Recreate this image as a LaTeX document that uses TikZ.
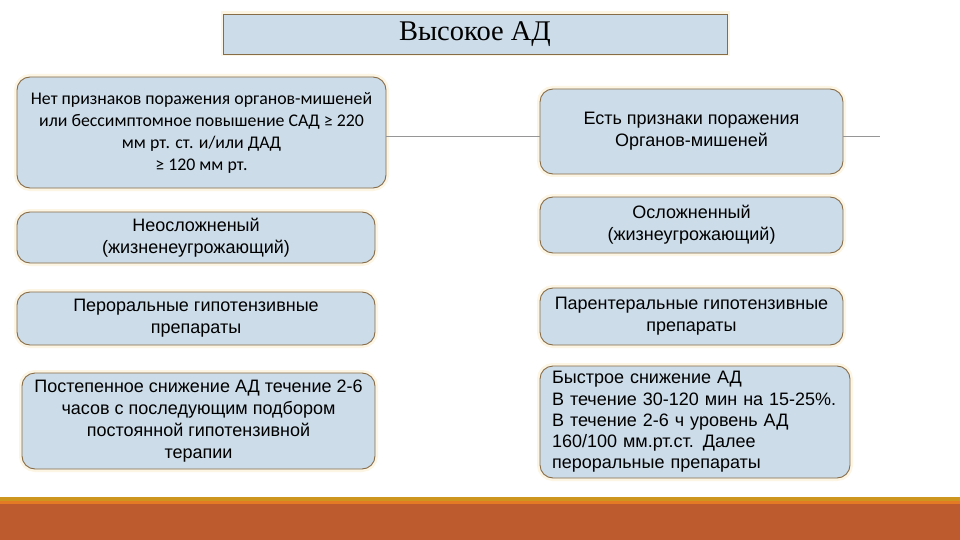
\documentclass[tikz,border=0pt]{standalone}
\usepackage{fontspec}
\setmainfont{Liberation Sans}
\newfontfamily\serifA{Liberation Serif}
\newfontfamily\calib{Carlito}
\definecolor{boxfill}{RGB}{204,220,233}
\definecolor{boxedge}{RGB}{135,108,72}
\definecolor{halo}{RGB}{252,245,228}
\definecolor{linegray}{RGB}{150,150,150}
\definecolor{barGold}{RGB}{205,150,30}
\definecolor{barOrange}{RGB}{228,122,36}
\definecolor{barRust}{RGB}{190,91,46}
\tikzset{
  rbox/.style={draw=boxedge, line width=0.9pt, fill=boxfill, rounded corners=13pt,
    preaction={draw=halo, line width=6pt},
    align=center, inner sep=0pt, font=\fontsize{18}{22}\selectfont},
  titlebox/.style={draw=boxedge, line width=0.8pt, fill=boxfill, inner sep=0pt,
    preaction={draw=halo, line width=5pt},
    font=\serifA\fontsize{28.5}{30}\selectfont},
  conn/.style={draw=linegray, line width=0.6pt}
}
\begin{document}
\begin{tikzpicture}[x=1pt,y=-1pt]
\useasboundingbox (0,0) rectangle (960,540);
\fill[white] (0,0) rectangle (960,540);
% bottom bar
\fill[barGold] (0,497) rectangle (960,501);
\fill[barOrange] (0,501) rectangle (960,504);
\fill[barRust] (0,504) rectangle (960,540);

\node[titlebox, minimum width=504pt, minimum height=40pt] (title) at (475,34) {Высокое АД};

\coordinate (rend) at (880,136);

\node[rbox, minimum width=369pt, minimum height=111pt, font=\calib\fontsize{17.8}{22}\selectfont] (l1) at (201.5,132.5)
  {Нет признаков поражения органов-мишеней\\или бессимптомное повышение САД ≥ 220\\мм рт. ст. и/или ДАД\\≥ 120 мм рт.};
\node[rbox, minimum width=303pt, minimum height=85pt] (r1) at (691.5,131.5)
  {Есть признаки поражения\\Органов-мишеней};

\draw[conn] (l1.east |- rend) -- (r1.west |- rend);
\draw[conn] (r1.east |- rend) -- (rend);

\node[rbox, minimum width=358pt, minimum height=51pt] (l2) at (196,237.5)
  {Неосложненый\\(жизненеугрожающий)};
\node[rbox, minimum width=303pt, minimum height=56pt] (r2) at (691.5,225)
  {Осложненный\\(жизнеугрожающий)};

\node[rbox, minimum width=358pt, minimum height=53pt] (l3) at (196,318.5)
  {Пероральные гипотензивные\\препараты};
\node[rbox, minimum width=303pt, minimum height=57pt] (r3) at (691.5,316.5)
  {Парентеральные гипотензивные\\препараты};

\node[rbox, minimum width=353pt, minimum height=96pt] (l4) at (198.5,421)
  {Постепенное снижение АД течение 2-6\\часов с последующим подбором\\постоянной гипотензивной\\терапии};
\node[rbox, minimum width=310pt, minimum height=112pt, text width=286pt, align=left, font=\fontsize{18}{21.3}\selectfont] (r4) at (695,422)
  {Быстрое снижение АД\\В течение 30-120 мин на 15-25\%.\\В течение 2-6 ч уровень АД\\160/100 мм.рт.ст. Далее\\пероральные препараты};
\end{tikzpicture}
\end{document}
